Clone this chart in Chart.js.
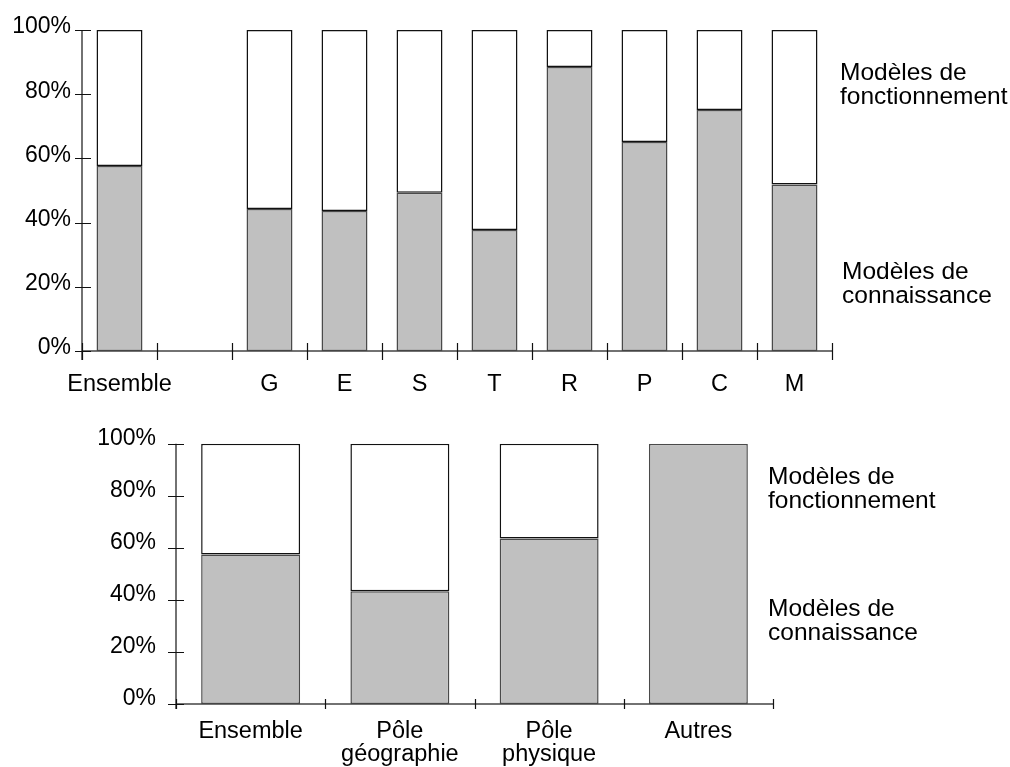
<!DOCTYPE html>
<html>
<head>
<meta charset="utf-8">
<script src="https://cdn.jsdelivr.net/npm/chart.js@4"></script>
<style>
  body { margin: 0; background: #fff; }
  #wrap { position: relative; width: 1010px; height: 767px; font-family: "Liberation Sans", Arial, sans-serif; color: #000; }
  canvas { position: absolute; left: 0; }
  .note { position: absolute; font-size: 24.5px; line-height: 24px; white-space: nowrap; }
</style>
</head>
<body>
<div id="wrap">
  <canvas id="topChart" width="1010" height="410" style="top:0"></canvas>
  <canvas id="bottomChart" width="1010" height="357" style="top:410px"></canvas>
  <div class="note" style="left:840px;top:60px">Modèles de<br>fonctionnement</div>
  <div class="note" style="left:842px;top:259px">Modèles de<br>connaissance</div>
  <div class="note" style="left:768px;top:464px">Modèles de<br>fonctionnement</div>
  <div class="note" style="left:768px;top:596px">Modèles de<br>connaissance</div>
</div>
<script>
// DATA

const topLabels = ["Ensemble", "", "G", "E", "S", "T", "R", "P", "C", "M"];
const topConnaissance = [57.6, null, 44.2, 43.6, 49.3, 37.7, 88.5, 65.1, 75.1, 51.9];
const topFonctionnement = [42.4, null, 55.8, 56.4, 50.7, 62.3, 11.5, 34.9, 24.9, 48.1];

const bottomLabels = ["Ensemble", ["Pôle", "géographie"], ["Pôle", "physique"], "Autres"];
const bottomConnaissance = [57.5, 43.3, 63.6, 100];
const bottomFonctionnement = [42.5, 56.7, 36.4, 0];

const pctTicks = [0, 20, 40, 60, 80, 100];

Chart.defaults.font.family = "'Liberation Sans', Arial, sans-serif";
Chart.defaults.color = "#000";
Chart.defaults.animation = false;

// AXES WITH TICKS CROSSING THE LINES

function crossAxes(opts) {
  return {
    id: "crossAxes",
    afterDatasetsDraw(chart) {
      const ctx = chart.ctx;
      const area = chart.chartArea;
      const x = chart.scales.x;
      const y = chart.scales.y;
      ctx.save();
      ctx.strokeStyle = "#444";
      ctx.lineWidth = 1.5;
      ctx.beginPath();
      ctx.moveTo(area.left, area.bottom);
      ctx.lineTo(area.right, area.bottom);
      ctx.moveTo(area.left, area.top);
      ctx.lineTo(area.left, area.bottom + opts.yBelow);
      ctx.stroke();

      ctx.strokeStyle = "#111";
      ctx.lineWidth = 1.2;
      ctx.beginPath();
      for (let i = 0; i <= x.ticks.length; i++) {
        let px = Math.round(x.getPixelForValue(i - 0.5)) + 0.5;
        ctx.moveTo(px, area.bottom - opts.xUp);
        ctx.lineTo(px, area.bottom + opts.xDown);
      }
      y.ticks.forEach((t) => {
        let py = Math.round(y.getPixelForValue(t.value)) + 0.5;
        ctx.moveTo(area.left - opts.yLeft, py);
        ctx.lineTo(area.left + opts.yRight, py);
      });
      ctx.stroke();
      ctx.restore();
    },
  };
}

function makeChart(id, labels, conn, fonc, cfg) {
  return new Chart(document.getElementById(id).getContext("2d"), {
    type: "bar",
    data: {
      labels: labels,
      datasets: [
        {
          label: "Modèles de connaissance",
          data: conn,
          backgroundColor: "#c0c0c0",
          borderColor: "#4a4a4a",
          borderWidth: 1.5,
          borderSkipped: false,
          barPercentage: cfg.barPct,
          categoryPercentage: 1,
        },
        {
          label: "Modèles de fonctionnement",
          data: fonc,
          backgroundColor: "#ffffff",
          borderColor: "#111",
          borderWidth: 1.5,
          borderSkipped: false,
          barPercentage: cfg.barPct,
          categoryPercentage: 1,
        },
      ],
    },
    plugins: [crossAxes(cfg.axes)],
    options: {
      responsive: false,
      layout: { padding: { left: 0, right: cfg.right, top: cfg.top, bottom: 0 } },
      plugins: { legend: { display: false }, tooltip: { enabled: false } },
      scales: {
        x: {
          stacked: true,
          offset: true,
          grid: { display: false, drawTicks: false },
          border: { display: false },
          ticks: {
            padding: cfg.xPad,
            maxRotation: 0,
            autoSkip: false,
            font: { size: 23.5, lineHeight: 0.98 },
          },
          afterFit: (s) => { s.height = cfg.xHeight; },
        },
        y: {
          stacked: true,
          min: 0,
          max: 100,
          grid: { display: false, drawTicks: false },
          border: { display: false },
          ticks: {
            stepSize: cfg.step,
            padding: cfg.yPad,
            labelOffset: cfg.yOff,
            font: { size: 23 },
            callback: (v) => (pctTicks.includes(v) ? v + "%" : ""),
          },
          afterFit: (s) => { s.width = cfg.yWidth; },
        },
      },
    },
  });
}

const topChart = makeChart("topChart", topLabels, topConnaissance, topFonctionnement, {
  barPct: 0.613,
  right: 178,
  top: 30,
  xHeight: 59,
  yWidth: 82,
  xPad: 22,
  yPad: 11,
  yOff: -3,
  step: 20,
  axes: { xUp: 8, xDown: 9, yLeft: 7, yRight: 9, yBelow: 9 },
});

const bottomChart = makeChart("bottomChart", bottomLabels, bottomConnaissance, bottomFonctionnement, {
  barPct: 0.663,
  right: 237,
  top: 31,
  xHeight: 63,
  yWidth: 176,
  xPad: 16,
  yPad: 20,
  yOff: -5,
  step: 10,
  axes: { xUp: 5, xDown: 5, yLeft: 8, yRight: 8, yBelow: 5 },
});
</script>
</body>
</html>
